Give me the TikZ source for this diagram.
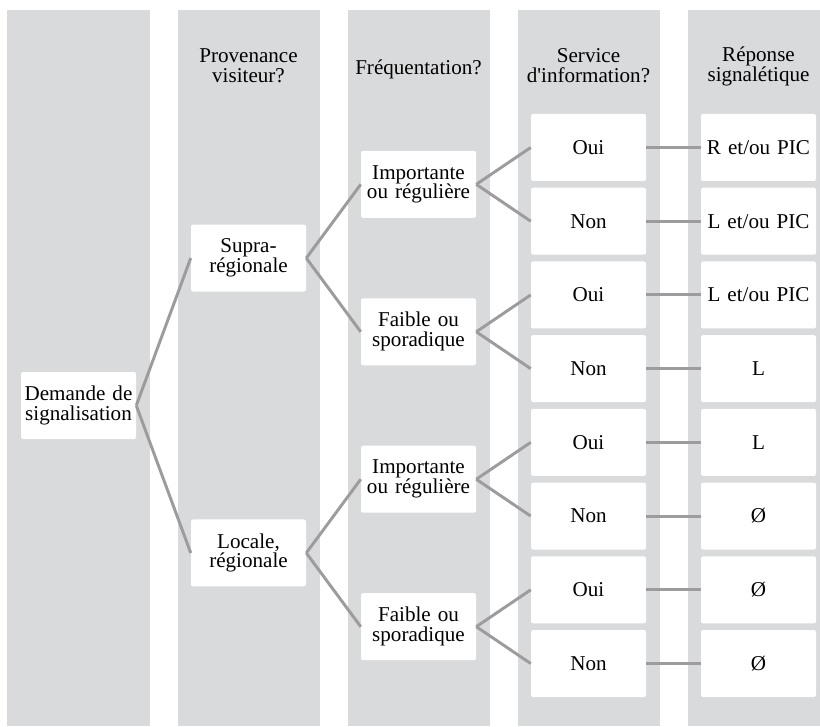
\documentclass[tikz,border=0pt]{standalone}
\usepackage{fontspec}
\setmainfont{Liberation Serif}
\usepackage{tikz}
\usetikzlibrary{calc,positioning}
\definecolor{colgray}{HTML}{D9DADC}
\definecolor{linkgray}{HTML}{9C9C9E}
\tikzset{%
  font=\fontsize{15}{14.2}\selectfont,
  column/.style={rectangle,fill=colgray,inner sep=0pt,minimum width=3.55cm,minimum height=17.9cm,anchor=south},
  box/.style={rectangle,fill=white,rounded corners=1.5pt,inner sep=0pt,minimum width=2.875cm,minimum height=1.675cm,text width=2.8cm,align=center},
  header/.style={align=center,inner sep=0pt},
  link/.style={draw=linkgray,line width=2.1pt}
}

\begin{document}
\begin{tikzpicture}
	\clip (0,0) rectangle (20.5,18.15);
	\foreach \c in {1,...,5}
		\node[column] (col\c) at ({1.9625+4.25*(\c-1)},0) {};

	\begin{scope}[every node/.style={header}]
	\node (h provenance) at (col2 |- 0,16.5) {Provenance\\visiteur?};
	\node (h frequentation) at (col3 |- 0,16.42) {Fréquentation?};
	\node (h service) at (col4 |- 0,16.5) {Service\\d\textquotesingle information?};
	\node (h reponse) at (col5 |- 0,16.5) {Réponse\\signalétique};
	\end{scope}

	% service / reponse rows
	\foreach \i/\s/\r in {1/Oui/{R et/ou PIC},2/Non/{L et/ou PIC},3/Oui/{L et/ou PIC},4/Non/L,%
		5/Oui/L,6/Non/Ø,7/Oui/Ø,8/Non/Ø} {%
		\node[box] (service \i) at (14.7125,{14.4625-(\i-1)*1.843}) {\s};
		\node[box] (reponse \i) at (18.9625,{14.4625-(\i-1)*1.843}) {\r};
		\draw[link] (service \i.east) -- (reponse \i.west);
	}

	% frequentation
	\foreach \j/\t in {1/{Importante\\ou régulière},2/{Faible ou\\sporadique},%
		3/{Importante\\ou régulière},4/{Faible ou\\sporadique}} {%
		\pgfmathtruncatemacro\a{2*\j-1}
		\pgfmathtruncatemacro\b{2*\j}
		\node[box] (frequentation \j) at ($(service \a)!.5!(service \b)+(-4.25,0)$) {\t};
		\draw[link] (frequentation \j.east) -- (service \a.west);
		\draw[link] (frequentation \j.east) -- (service \b.west);
	}

	\node[box] (supra) at ($(frequentation 1)!.5!(frequentation 2)+(-4.25,0)$) {Supra-\\régionale};
	\node[box] (locale) at ($(frequentation 3)!.5!(frequentation 4)+(-4.25,0)$) {Locale,\\régionale};
	\node[box] (demande) at ($(supra)!.5!(locale)+(-4.25,0)$) {Demande de\\signalisation};

	\draw[link] (supra.east) -- (frequentation 1.west);
	\draw[link] (supra.east) -- (frequentation 2.west);
	\draw[link] (locale.east) -- (frequentation 3.west);
	\draw[link] (locale.east) -- (frequentation 4.west);
	\draw[link] (demande.east) -- (supra.west);
	\draw[link] (demande.east) -- (locale.west);
\end{tikzpicture}
\end{document}
